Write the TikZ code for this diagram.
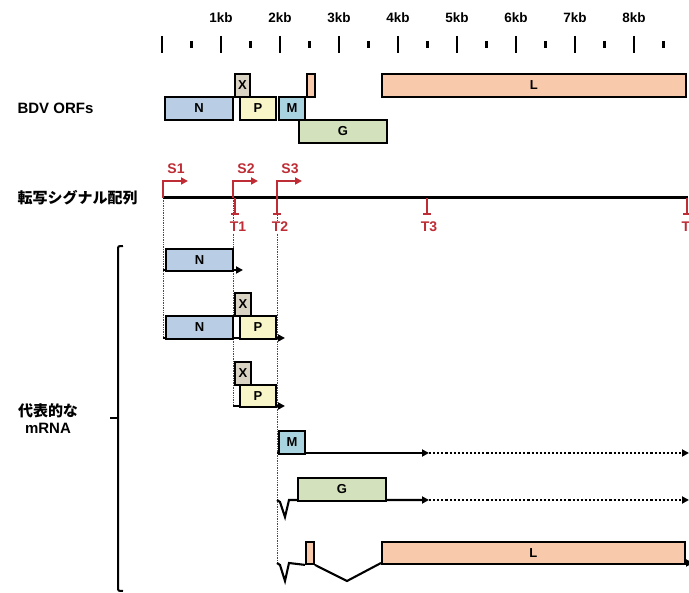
\documentclass[tikz,border=0pt]{standalone}
\usepackage{fontspec}
\setmainfont{Liberation Sans}
\newfontfamily\jp{Noto Sans CJK JP}
\usetikzlibrary{arrows.meta}

\definecolor{cN}{HTML}{B9CDE5}
\definecolor{cX}{HTML}{D8D3C2}
\definecolor{cP}{HTML}{F8F6C8}
\definecolor{cM}{HTML}{A9D3DE}
\definecolor{cG}{HTML}{D3E2BC}
\definecolor{cL}{HTML}{F8C9AA}
\definecolor{sig}{HTML}{BE2D35}

\begin{document}
\begin{tikzpicture}[x=1pt,y=-1pt,
  lbl/.style={font=\bfseries\fontsize{13.5}{15}\selectfont},
  side/.style={font=\bfseries\fontsize{15}{17}\selectfont},
  orf/.style={draw, line width=1.9pt, inner sep=0pt, anchor=north west,
    font=\bfseries\fontsize{13}{14}\selectfont},
  tick/.style={line width=2.2pt},
  guide/.style={densely dotted, line width=0.7pt, black!70},
  rna/.style={line width=2.1pt, -{Triangle[length=7pt,width=7pt]}},
  rnaext/.style={line width=2.1pt, dotted, -{Triangle[length=7pt,width=7pt]}},
  prom/.style={sig, line width=2.2pt, -{Triangle[length=7pt,width=7pt]}},
  term/.style={sig, line width=2.2pt},
  siglbl/.style={sig, font=\bfseries\fontsize{14}{15}\selectfont, inner sep=1pt},
]
\useasboundingbox (0,0) rectangle (689,593);

% --- kb scale ---
\foreach \i in {0,...,8} {
  \draw[tick] ({162+59*\i},36) -- ({162+59*\i},53);
  \draw[tick] ({191.5+59*\i},41) -- ({191.5+59*\i},48);
}
\foreach \i in {1,...,8} {
  \node[lbl] (kb\i) at ({162+59*\i},18) {\i kb};
}

% --- genome ORFs ---
\node[side, anchor=west] (orflabel) at (14,108) {BDV ORFs};
\node[orf, fill=cX, minimum width=15, minimum height=23] (gX) at (234,73) {X};
\node[orf, fill=cN, minimum width=68, minimum height=23] (gN) at (164,96) {N};
\node[orf, fill=cP, minimum width=36, minimum height=23] (gP) at (239,96) {P};
\node[orf, fill=cM, minimum width=26, minimum height=23] (gM) at (278,96) {M};
\node[orf, fill=cL, minimum width=8, minimum height=23] (gLs) at (306,73) {};
\node[orf, fill=cL, minimum width=304, minimum height=23] (gL) at (381,73) {L};
\node[orf, fill=cG, minimum width=88, minimum height=23] (gG) at (298,119) {G};

% --- transcription signals ---
\node[side, anchor=west] (siglabel) at (14,198) {\jp\bfseries 転写シグナル配列};
\coordinate (g0) at (163,198);
\coordinate (gend) at (688,198);

% guide lines
\draw[guide] (163,198) -- (163,338);
\draw[guide] (233,198) -- (233,406);
\draw[guide] (277,198) -- (277,563);

\draw[line width=3pt] (g0) -- (gend);

% promoters
\foreach \n/\x in {1/163,2/233,3/277} {
  \coordinate (s\n) at (\x,198);
  \coordinate (s\n e) at (\x+25,181);
  \draw[prom] (s\n) |- (s\n e);
  \node[siglbl] (S\n) at (\x+13,169) {S\n};
}
% terminators
\foreach \n/\x in {1/235,2/277,3/427,4/687} {
  \coordinate (t\n) at (\x,198);
  \coordinate (t\n b) at (\x,214);
  \draw[term] (t\n) -- (t\n b);
  \draw[term] ([xshift=-4pt]t\n b) -- ([xshift=4pt]t\n b);
}
\node[siglbl, fill=white] (T1) at (238,227) {T1};
\node[siglbl, fill=white] (T2) at (280,227) {T2};
\node[siglbl, fill=white] (T3) at (429,227) {T3};
\node[siglbl, fill=white] (T4) at (686,227) {T};

% --- representative mRNAs ---
\draw[line width=2pt] (123,246) .. controls (118,246) .. (118,250) -- (118,587)
  .. controls (118,591) .. (123,591);
\draw[line width=2pt] (118,418) -- (110,418);
\node[side, align=center] (mrnalabel) at (48,419)
  {{\jp\bfseries 代表的な}\\mRNA};

% row 1
\coordinate (r1a) at (163,270); \coordinate (r1b) at (243,270);
\draw[rna] (r1a) -- (r1b);
\node[orf, fill=cN, minimum width=67, minimum height=22] (r1N) at (165,248) {N};

% row 2
\coordinate (r2a) at (163,338); \coordinate (r2b) at (285,338);
\draw[rna] (r2a) -- (r2b);
\node[orf, fill=cX, minimum width=16, minimum height=23] (r2X) at (234,292) {X};
\node[orf, fill=cN, minimum width=67, minimum height=23] (r2N) at (165,315) {N};
\node[orf, fill=cP, minimum width=36, minimum height=23] (r2P) at (239,315) {P};

% row 3
\coordinate (r3a) at (233,406); \coordinate (r3b) at (285,406);
\draw[rna] (r3a) -- (r3b);
\node[orf, fill=cX, minimum width=16, minimum height=23] (r3X) at (234,361) {X};
\node[orf, fill=cP, minimum width=36, minimum height=22] (r3P) at (239,384) {P};

% row 4
\coordinate (r4a) at (277,453); \coordinate (r4m) at (429,453); \coordinate (r4b) at (689,453);
\draw[rna] (r4a) -- (r4m);
\draw[rnaext] (r4m) -- (r4b);
\node[orf, fill=cM, minimum width=26, minimum height=23] (r4M) at (278,430) {M};

% row 5
\coordinate (r5a) at (277,500); \coordinate (r5m) at (429,500); \coordinate (r5b) at (689,500);
\draw[rna] (r5a) -- (280,502) -- (285,517) -- (289,500) -- (r5m);
\draw[rnaext] (r5m) -- (r5b);
\node[orf, fill=cG, minimum width=88, minimum height=23] (r5G) at (297,477) {G};

% row 6
\coordinate (r6a) at (277,563); \coordinate (r6b) at (693,563);
\coordinate (r6s) at (347,581);
\node[orf, fill=cL, minimum width=8, minimum height=22] (r6Ls) at (305,541) {};
\draw[line width=2.1pt] (r6a) -- (280,565) -- (285,581) -- (289,563) -- (r6Ls.south west);
\draw[line width=2.1pt] (r6Ls.south east) -- (r6s) -- (381,563);
\draw[rna] (381,563) -- (r6b);
\node[orf, fill=cL, minimum width=303, minimum height=22] (r6L) at (381,541) {L};
\end{tikzpicture}
\end{document}
